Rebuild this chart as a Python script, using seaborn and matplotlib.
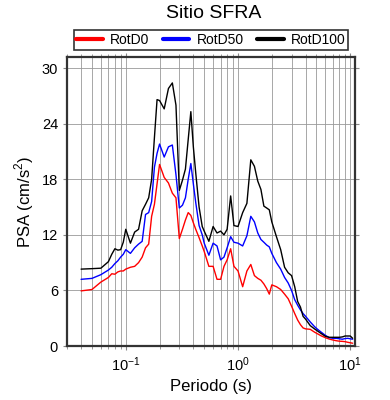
import numpy as np
import pandas as pd
import matplotlib
matplotlib.use('Agg')
import matplotlib.pyplot as plt
import seaborn as sns
from matplotlib.ticker import LogLocator, FixedLocator, NullFormatter

periods = [0.04, 0.05, 0.06, 0.07, 0.075, 0.08, 0.085, 0.09, 0.095, 0.10,
           0.11, 0.12, 0.13, 0.14, 0.15, 0.16, 0.17, 0.18, 0.19, 0.20,
           0.22, 0.24, 0.26, 0.28, 0.30, 0.32, 0.34, 0.36, 0.38, 0.40,
           0.42, 0.45, 0.48, 0.50, 0.55, 0.60, 0.65, 0.70, 0.75, 0.80,
           0.86, 0.92, 1.0, 1.1, 1.2, 1.3, 1.4, 1.5, 1.6, 1.7,
           1.8, 1.9, 2.0, 2.2, 2.4, 2.6, 2.8, 3.0, 3.2, 3.4,
           3.6, 3.8, 4.0, 4.4, 4.8, 5.0, 5.5, 6.0, 6.5, 7.0,
           7.5, 8.0, 8.5, 9.0, 9.5, 10.0, 10.5]

rotd0 = [5.95, 6.1, 6.9, 7.4, 7.8, 7.75, 8.0, 8.1, 8.1, 8.3,
         8.5, 8.6, 9.0, 9.6, 10.6, 11.0, 14.0, 15.3, 17.5, 19.6,
         18.2, 17.6, 16.5, 16.0, 11.6, 12.6, 13.6, 14.4, 14.1, 13.3,
         12.6, 11.7, 10.8, 10.2, 8.6, 8.6, 7.2, 7.2, 8.6, 9.3,
         10.5, 8.6, 8.1, 6.4, 8.1, 8.8, 7.6, 7.3, 7.1, 6.7,
         6.2, 5.6, 6.6, 6.4, 6.1, 5.6, 5.1, 4.3, 3.5, 2.8,
         2.3, 1.95, 1.85, 1.8, 1.5, 1.38, 1.1, 0.9, 0.75, 0.65,
         0.57, 0.52, 0.5, 0.47, 0.4, 0.35, 0.3]

rotd50 = [7.2, 7.3, 7.7, 8.2, 8.5, 8.9, 9.2, 9.6, 9.9, 10.4,
          10.0, 10.6, 11.0, 11.3, 14.2, 14.4, 15.6, 19.3, 20.8, 21.8,
          20.4, 21.5, 21.7, 18.5, 14.9, 15.2, 16.0, 18.0, 19.7, 17.5,
          15.5, 13.0, 12.0, 11.1, 9.8, 11.1, 10.8, 9.3, 9.6, 10.6,
          11.8, 11.2, 11.1, 10.8, 11.9, 14.0, 13.4, 12.2, 11.5, 11.2,
          10.9, 10.7, 10.0, 9.0, 8.3, 7.4, 6.8, 6.0, 5.0, 4.4,
          3.9, 3.5, 3.2, 2.6, 2.1, 1.9, 1.5, 1.15, 0.9, 0.83,
          0.83, 0.78, 0.73, 0.8, 0.83, 0.78, 0.73]

rotd100 = [8.3, 8.35, 8.4, 9.1, 9.9, 10.5, 10.35, 10.4, 11.2, 12.6,
           11.1, 12.3, 12.6, 14.6, 15.3, 16.0, 18.0, 22.5, 26.6, 26.5,
           25.6, 27.8, 28.4, 26.0, 16.8, 17.9, 19.1, 22.3, 25.3, 21.5,
           18.7, 15.0, 12.9, 12.4, 11.3, 12.9, 12.2, 12.4, 12.0, 12.6,
           16.2, 13.0, 12.9, 14.4, 15.4, 20.1, 19.4, 17.8, 16.9, 15.1,
           14.9, 14.7, 13.4, 11.8, 10.4, 8.5, 7.9, 7.6, 6.4, 4.8,
           4.2, 3.2, 2.9, 2.2, 1.85, 1.7, 1.35, 1.05, 0.94, 0.94,
           0.94, 0.94, 0.98, 1.08, 1.08, 1.08, 0.83]

components = ['RotD0', 'RotD50', 'RotD100']
colors = ['red', 'blue', 'black']

df = pd.DataFrame({
    'Periodo': periods * 3,
    'PSA': rotd0 + rotd50 + rotd100,
    'Componente': [c for c in components for _ in periods],
})

sns.set_style('ticks')
plt.rcParams['font.family'] = ['Liberation Sans', 'DejaVu Sans']
plt.rcParams['mathtext.fontset'] = 'custom'
plt.rcParams['mathtext.rm'] = 'Liberation Sans'
plt.rcParams['text.color'] = 'black'
plt.rcParams['axes.labelcolor'] = 'black'
plt.rcParams['xtick.labelcolor'] = 'black'
plt.rcParams['ytick.labelcolor'] = 'black'

fig = plt.figure(figsize=(3.9, 4.0), dpi=100)
ax = fig.add_axes([0.172, 0.135, 0.738, 0.7225])

sns.lineplot(data=df, x='Periodo', y='PSA', hue='Componente',
             palette=dict(zip(components, colors)), linewidth=1.0,
             ax=ax, sort=False, estimator=None)

ax.set_xscale('log')
ax.set_xlim(0.03, 11)
ax.set_ylim(0, 31.2)
ax.set_yticks([0, 6, 12, 18, 24, 30])
ax.xaxis.set_major_locator(FixedLocator([0.1, 1, 10]))
ax.xaxis.set_minor_locator(LogLocator(base=10, subs=np.arange(2, 10), numticks=20))
ax.xaxis.set_minor_formatter(NullFormatter())

ax.grid(True, which='both', axis='x', color='#999999', linewidth=0.6)
ax.grid(True, which='major', axis='y', color='#999999', linewidth=0.6)
ax.set_axisbelow(True)

for s in ax.spines.values():
    s.set_linewidth(1.6)
    s.set_color('#333333')

ax.tick_params(axis='both', which='major', direction='out', length=3,
               width=0.8, color='#888888', labelsize=10.5,
               top=True, right=True)
ax.tick_params(axis='x', which='minor', direction='out', length=2,
               width=0.6, color='#888888', top=True)

ax.set_xlabel('Periodo (s)', fontsize=12)
ax.set_ylabel('PSA (cm/s$^2$)', fontsize=12)

handles, labels = ax.get_legend_handles_labels()
for h in handles:
    h.set_linewidth(3)
leg = ax.legend(handles, labels, loc='lower center', bbox_to_anchor=(0.5, 1.025),
                ncol=3, frameon=True, fancybox=False, fontsize=10,
                handlelength=1.9, columnspacing=1.0, borderpad=0.2,
                handletextpad=0.5, borderaxespad=0.0)
leg.get_frame().set_edgecolor('black')
leg.get_frame().set_linewidth(1.2)

fig.text(0.547, 0.965, 'Sitio SFRA', ha='center', va='center', fontsize=14)

fig.savefig('out.png', dpi=100)
